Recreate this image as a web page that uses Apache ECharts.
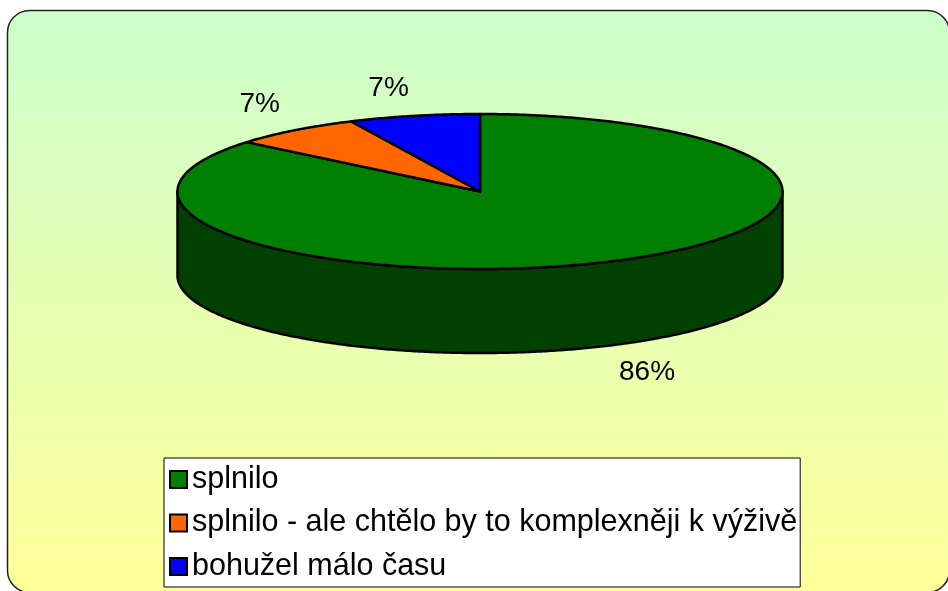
<!DOCTYPE html>
<html>
<head>
<meta charset="utf-8">
<script src="https://cdn.jsdelivr.net/npm/echarts@6/dist/echarts.min.js"></script>
<style>
html,body{margin:0;padding:0;background:#fff;}
#chart{width:948px;height:591px;}
</style>
</head>
<body>
<div id="chart"></div>
<script>
// ---- data ----
const categories = ['splnilo', 'splnilo - ale chtělo by to komplexněji k výživě', 'bohužel málo času'];
const values = [86, 7, 7];
const topColors = ['#008000', '#FF6600', '#0000FF'];
const sideColors = ['#004000', '#803300', '#000080'];

// ---- layout (styling) ----
const CX = 480, CY = 191.5, RX = 302.5, RY = 77.5, DEPTH = 84;
const LABEL_FONT_SIZE = 28;
const FONT = '"Liberation Sans", Arial, sans-serif';

const measureCtx = document.createElement('canvas').getContext('2d');
function textWidth(t, size) {
  measureCtx.font = size + 'px ' + FONT;
  return measureCtx.measureText(t).width;
}

function pt(theta, dz) {
  return [CX + RX * Math.sin(theta), CY - RY * Math.cos(theta) + (dz || 0)];
}
function arc(a0, a1, dz) {
  const pts = [];
  const n = Math.max(2, Math.ceil(Math.abs(a1 - a0) / (Math.PI / 360)));
  for (let k = 0; k <= n; k++) pts.push(pt(a0 + (a1 - a0) * k / n, dz));
  return pts;
}

function makeRender(idx) {
  return function (params, api) {
    const total = values.reduce((a, b) => a + b, 0);
    let start = 0;
    for (let j = 0; j < idx; j++) start += values[j];
    const v = api.value(0);
    const a0 = start / total * Math.PI * 2;
    const a1 = (start + v) / total * Math.PI * 2;
    const children = [];

    // side (front half only)
    const s = Math.max(a0, Math.PI / 2), e = Math.min(a1, Math.PI * 1.5);
    if (e > s) {
      const topArc = arc(s, e, 0);
      const botArc = arc(e, s, DEPTH);
      children.push({
        type: 'polygon', z2: 1,
        shape: { points: topArc.concat(botArc) },
        style: { fill: sideColors[idx], stroke: '#000', lineWidth: 2.5, lineJoin: 'round' }
      });
    }
    // top face
    children.push({
      type: 'polygon', z2: 10,
      shape: { points: [[CX, CY]].concat(arc(a0, a1, 0)) },
      style: { fill: topColors[idx], stroke: '#000', lineWidth: 2.5, lineJoin: 'round' }
    });
    // label
    const mid = (a0 + a1) / 2;
    const sn = Math.sin(mid), cs = Math.cos(mid);
    const p = pt(mid, cs < 0 ? DEPTH : 0);
    const txt = Math.round(v / total * 100) + '%';
    const hw = textWidth(txt, LABEL_FONT_SIZE) / 2;
    const hh = 16;
    const lx = p[0] + Math.sign(sn) * hw + 24 * sn;
    const ly = p[1] - Math.sign(cs) * hh - 12 * cs;
    children.push({
      type: 'text', z2: 20,
      style: {
        text: txt, x: lx, y: ly, fill: '#000',
        fontSize: LABEL_FONT_SIZE, fontFamily: FONT,
        align: 'center', verticalAlign: 'middle'
      }
    });
    return { type: 'group', children: children };
  };
}

const chart = echarts.init(document.getElementById('chart'), null, { renderer: 'canvas' });
chart.setOption({
  animation: false,
  backgroundColor: '#ffffff',
  graphic: [{
    type: 'rect', z: -10, silent: true,
    shape: { x: 7.5, y: 10.5, width: 942, height: 582, r: 22 },
    style: {
      fill: new echarts.graphic.LinearGradient(0, 0, 0, 1, [
        { offset: 0, color: '#CCFFCC' },
        { offset: 1, color: '#FFFF99' }
      ]),
      stroke: '#222', lineWidth: 1.5
    }
  }],
  legend: {
    orient: 'vertical',
    left: 164, top: 458,
    data: categories,
    icon: 'rect',
    itemWidth: 17, itemHeight: 17, itemGap: 12.5,
    padding: [6, 3, 5, 5],
    backgroundColor: '#ffffff',
    borderColor: '#000', borderWidth: 1, borderRadius: 0,
    itemStyle: { borderColor: '#000', borderWidth: 2 },
    textStyle: { fontSize: 30.5, fontFamily: FONT, color: '#000', lineHeight: 30 },
    selectedMode: false
  },
  series: categories.map((name, i) => ({
    type: 'custom',
    name: name,
    coordinateSystem: 'none',
    itemStyle: { color: topColors[i] },
    data: [[values[i]]],
    renderItem: makeRender(i)
  }))
});
</script>
</body>
</html>
